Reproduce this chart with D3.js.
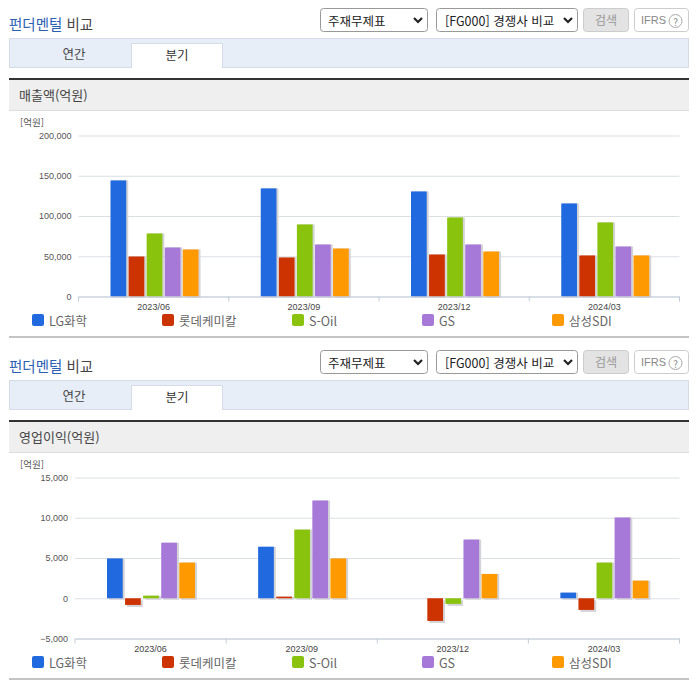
<!DOCTYPE html>
<html lang="ko">
<head>
<meta charset="utf-8">
<script src="https://cdn.jsdelivr.net/npm/d3@7"></script>
<style>
  html, body { margin: 0; padding: 0; background: #fff; }
  svg { display: block; }
  text { font-family: "Noto Sans CJK KR", "Noto Sans", sans-serif; }
  .tick text { font-family: "Liberation Sans", sans-serif; }
</style>
</head>
<body>
<svg width="696" height="684"></svg>
<script>
var categories = ["2023/06", "2023/09", "2023/12", "2024/03"];
var companies = ["LG화학", "롯데케미칼", "S-Oil", "GS", "삼성SDI"];
var colors = ["#2069de", "#cc3300", "#8ac30e", "#a678d8", "#ff9900"];

// 매출액 (억원), by company
var salesLG = [144200, 134300, 130500, 115600];
var salesLotte = [49700, 48500, 52200, 51000];
var salesSOil = [78300, 89500, 98200, 92000];
var salesGS = [60900, 64600, 64600, 62100];
var salesSDI = [58400, 59600, 55900, 51000];
var salesTicks = [0, 50000, 100000, 150000, 200000];

// 영업이익 (억원), by company
var profitLG = [4950, 6400, 0, 700];
var profitLotte = [-830, 200, -2820, -1450];
var profitSOil = [320, 8530, -700, 4430];
var profitGS = [6900, 12140, 7290, 10030];
var profitSDI = [4430, 4950, 3020, 2190];
var profitTicks = [-5000, 0, 5000, 10000, 15000];

var svg = d3.select("svg");

function label(g, x, y, str, size, color, anchor) {
    return g.append("text")
        .attr("x", x).attr("y", y)
        .attr("font-size", size)
        .attr("fill", color)
        .attr("text-anchor", anchor || "start")
        .attr("dominant-baseline", "central")
        .text(str);
}

function chevron(g, x, y) {
    g.append("path")
        .attr("d", "M" + (x - 4) + "," + (y - 2) + "L" + x + "," + (y + 2) + "L" + (x + 4) + "," + (y - 2))
        .attr("fill", "none").attr("stroke", "#222").attr("stroke-width", 2.2);
}

// title row, selects, tabs and the section header
function drawChrome(g, title) {
    var t = g.append("text").attr("x", 9).attr("y", 22.5)
        .attr("font-size", 14.5).attr("dominant-baseline", "central");
    t.append("tspan").attr("fill", "#2b5fb3").text("펀더멘털 ");
    t.append("tspan").attr("fill", "#444").text("비교");

    g.append("rect").attr("x", 320.5).attr("y", 8.5).attr("width", 107).attr("height", 23).attr("rx", 3)
        .attr("fill", "#fff").attr("stroke", "#999");
    label(g, 328, 20, "주재무제표", 12.5, "#222");
    chevron(g, 418, 20);

    g.append("rect").attr("x", 436.5).attr("y", 8.5).attr("width", 141).attr("height", 23).attr("rx", 3)
        .attr("fill", "#fff").attr("stroke", "#999");
    label(g, 445, 20, "[FG000] 경쟁사 비교", 12.5, "#222");
    chevron(g, 568, 20);

    g.append("rect").attr("x", 583.5).attr("y", 8.5).attr("width", 45).attr("height", 23).attr("rx", 3)
        .attr("fill", "#e3e3e3").attr("stroke", "#ccc");
    label(g, 606, 19.5, "검색", 12, "#999", "middle");

    g.append("rect").attr("x", 634.5).attr("y", 8.5).attr("width", 54).attr("height", 23).attr("rx", 3)
        .attr("fill", "#fff").attr("stroke", "#ccc");
    label(g, 641, 19.5, "IFRS", 11, "#888").style("font-family", "Liberation Sans");
    g.append("circle").attr("cx", 675.5).attr("cy", 21).attr("r", 6.5)
        .attr("fill", "#fff").attr("stroke", "#aaa");
    label(g, 675.5, 21, "?", 10, "#888", "middle");

    g.append("rect").attr("x", 9.5).attr("y", 38.5).attr("width", 679).attr("height", 29)
        .attr("fill", "#e8eef8").attr("stroke", "#d5dce8");
    g.append("path").attr("d", "M131.5,68V43.5H222.5V68")
        .attr("fill", "#fff").attr("stroke", "#d5dce8");
    label(g, 74, 53.5, "연간", 12.5, "#444", "middle");
    label(g, 177, 54.5, "분기", 12.5, "#333", "middle");

    g.append("rect").attr("x", 9).attr("y", 80).attr("width", 680).attr("height", 30.5).attr("fill", "#efefef");
    g.append("rect").attr("x", 9).attr("y", 110).attr("width", 680).attr("height", 1).attr("fill", "#ddd");
    g.append("rect").attr("x", 9).attr("y", 78).attr("width", 680).attr("height", 2).attr("fill", "#333");
    label(g, 19, 94.5, title, 13, "#444");
    label(g, 20, 122, "[억원]", 9.5, "#555");

    g.append("rect").attr("x", 9).attr("y", 336).attr("width", 680).attr("height", 2).attr("fill", "#c4c4c4");

    g.selectAll(".lg").data(companies).enter().append("g").attr("class", "lg").each(function(d, i) {
        var item = d3.select(this);
        item.append("rect").attr("x", 32 + i * 130).attr("y", 314).attr("width", 12).attr("height", 12)
            .attr("rx", 2).attr("fill", colors[i]);
        label(item, 49 + i * 130, 320, d, 12.5, "#666");
    });
}

function drawChart(g, series, ticks, domain, left, yTop, yBottom) {
    var x0 = d3.scaleBand().domain(categories).range([left, 679.5]);
    var x1 = d3.scaleBand().domain(companies).range([32, 120]).paddingInner(0.13);
    var y = d3.scaleLinear().domain(domain).range([yBottom, yTop]);

    // gridlines and value labels
    var yAxis = g.append("g")
        .attr("transform", "translate(" + left + ",0)")
        .call(d3.axisLeft(y).tickValues(ticks).tickSize(-(679.5 - left)).tickPadding(7).tickFormat(d3.format(",")));
    yAxis.select(".domain").remove();
    yAxis.selectAll("line").attr("stroke", "#dcdfe4");
    yAxis.selectAll("text").attr("font-size", 9).attr("fill", "#555");

    var groups = g.selectAll(".group").data(categories).enter().append("g")
        .attr("class", "group")
        .attr("transform", function(d) { return "translate(" + x0(d) + ",0)"; });

    function barY(v) { return Math.min(y(v), y(0)); }
    function barH(v) { return Math.abs(y(v) - y(0)); }

    series.forEach(function(values, s) {
        // soft shadow, then the bar itself
        groups.filter(function(d, i) { return values[i] !== 0; }).append("rect")
            .attr("x", x1(companies[s]) + 2)
            .attr("y", function(d) { return barY(values[categories.indexOf(d)]) + (values[categories.indexOf(d)] < 0 ? 2 : 0); })
            .attr("width", x1.bandwidth())
            .attr("height", function(d) { return barH(values[categories.indexOf(d)]) + (values[categories.indexOf(d)] > 0 ? 1.5 : 0); })
            .attr("fill", "#d4d4d8");
        groups.append("rect")
            .attr("x", x1(companies[s]))
            .attr("y", function(d, i) { return barY(values[i]); })
            .attr("width", x1.bandwidth())
            .attr("height", function(d, i) { return barH(values[i]); })
            .attr("fill", colors[s]);
    });

    // category axis along the chart bottom
    var axisY = y(domain[0]);
    var xAxis = g.append("g")
        .attr("transform", "translate(0," + axisY + ")")
        .call(d3.axisBottom(x0).tickSize(0).tickPadding(7));
    xAxis.select(".domain").attr("stroke", "#c3cddc");
    xAxis.selectAll("text").attr("font-size", 9).attr("fill", "#444");
    xAxis.selectAll(".edge").data(categories.concat(["end"])).enter().append("line")
        .attr("class", "edge")
        .attr("x1", function(d, i) { return left + i * x0.step(); })
        .attr("x2", function(d, i) { return left + i * x0.step(); })
        .attr("y1", 0).attr("y2", 5)
        .attr("stroke", "#c3cddc");
}

var top1 = svg.append("g");
drawChrome(top1, "매출액(억원)");
drawChart(top1, [salesLG, salesLotte, salesSOil, salesGS, salesSDI], salesTicks, [0, 200000], 78.5, 135.5, 296.5);

var top2 = svg.append("g").attr("transform", "translate(0,342)");
drawChrome(top2, "영업이익(억원)");
drawChart(top2, [profitLG, profitLotte, profitSOil, profitGS, profitSDI], profitTicks, [-5000, 15000], 75, 135.5, 296.5);
</script>
</body>
</html>
